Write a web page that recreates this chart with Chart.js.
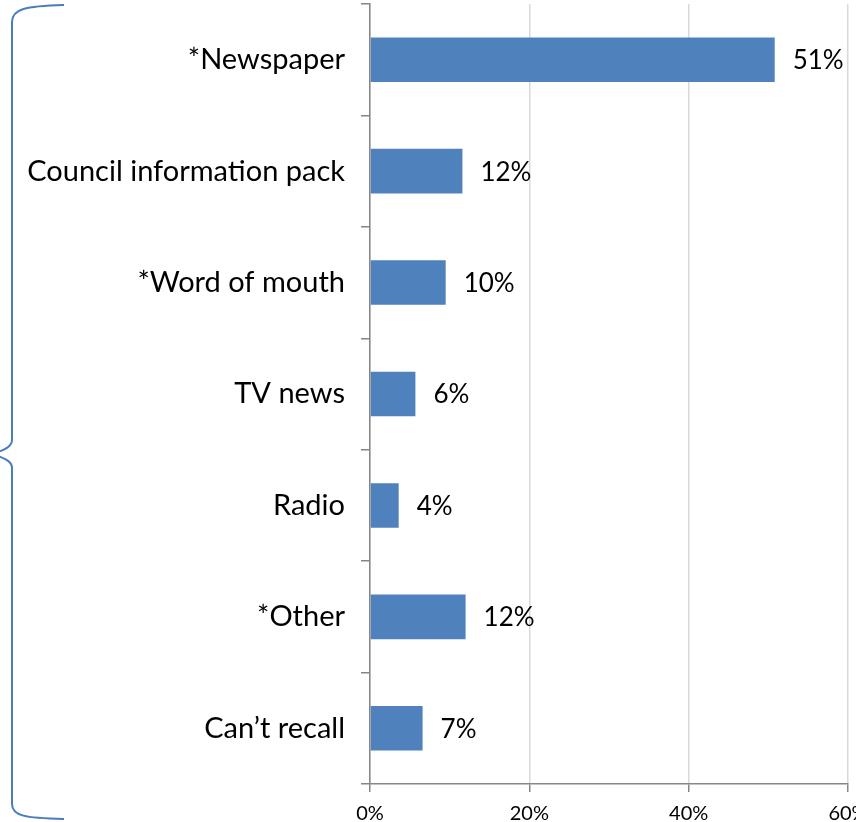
<!DOCTYPE html>
<html>
<head>
<meta charset="utf-8">
<script src="https://cdn.jsdelivr.net/npm/chart.js@4"></script>
<style>
  html, body { margin: 0; padding: 0; background: #ffffff; overflow: hidden; }
  #wrap { width: 856px; height: 822px; position: relative; }
</style>
</head>
<body>
<div id="wrap"><canvas id="c" width="856" height="822"></canvas></div>
<script>
const categories = ["*Newspaper", "Council information pack", "*Word of mouth", "TV news", "Radio", "*Other", "Can\u2019t recall"];
const values = [50.8, 11.6, 9.5, 5.7, 3.6, 12.0, 6.6];
const valueLabels = ["51%", "12%", "10%", "6%", "4%", "12%", "7%"];
const xTicks = [0, 20, 40, 60];

const FONT = "Lato, 'Open Sans', sans-serif";
const BLUE = "#4F81BD";
const AXIS = "#868686";

const dataLabelPlugin = {
  id: "dataLabels",
  afterDatasetsDraw(chart) {
    const ctx = chart.ctx;
    const meta = chart.getDatasetMeta(0);
    ctx.save();
    ctx.font = "26px " + FONT;
    ctx.fillStyle = "#000000";
    ctx.textAlign = "left";
    ctx.textBaseline = "middle";
    meta.data.forEach((bar, i) => {
      ctx.fillText(valueLabels[i], bar.x + 18, bar.y + 1);
    });
    ctx.restore();
  }
};

const bracePlugin = {
  id: "brace",
  afterDraw(chart) {
    const ctx = chart.ctx;
    const top = 4, bottom = 820, mid = 454, x = 12, endX = 64, tipX = -6;
    ctx.save();
    ctx.strokeStyle = "#4A7EBB";
    ctx.lineWidth = 2;
    ctx.beginPath();
    ctx.moveTo(endX, top + 1);
    ctx.bezierCurveTo(25, top + 2, x, top + 5, x, top + 18);
    ctx.lineTo(x, mid - 14);
    ctx.bezierCurveTo(x, mid - 5, tipX + 4, mid - 3, tipX, mid);
    ctx.bezierCurveTo(tipX + 4, mid + 3, x, mid + 5, x, mid + 14);
    ctx.lineTo(x, bottom - 16);
    ctx.bezierCurveTo(x, bottom - 4, 25, bottom - 2, endX, bottom - 1);
    ctx.stroke();
    ctx.restore();
  }
};

new Chart(document.getElementById("c"), {
  type: "bar",
  data: {
    labels: categories,
    datasets: [{
      data: values,
      backgroundColor: BLUE,
      borderWidth: 0,
      barPercentage: 0.4,
      categoryPercentage: 1.0
    }]
  },
  options: {
    indexAxis: "y",
    responsive: false,
    animation: false,
    devicePixelRatio: 1,
    layout: { padding: { top: 4, left: 0, right: 0, bottom: 0 } },
    plugins: {
      legend: { display: false },
      tooltip: { enabled: false }
    },
    scales: {
      x: {
        min: 0,
        max: 60,
        afterBuildTicks(scale) { scale.ticks = xTicks.map(v => ({ value: v })); },
        ticks: {
          color: "#000000",
          font: { family: FONT, size: 20 },
          padding: 10,
          maxRotation: 0,
          callback: v => v + "%"
        },
        grid: {
          color: "#D9D9D9",
          lineWidth: 1.5,
          tickColor: AXIS,
          tickLength: 8
        },
        border: { color: AXIS, width: 1.5 },
        afterFit(scale) {
          scale.height = 38;
          scale.paddingLeft = 0;
          scale.paddingRight = 8;
        }
      },
      y: {
        ticks: {
          color: "#000000",
          font: { family: FONT, size: 29 },
          padding: 16
        },
        grid: {
          drawOnChartArea: false,
          offset: true,
          tickColor: AXIS,
          tickLength: 9,
          lineWidth: 1.5
        },
        border: { color: AXIS, width: 1.5 },
        afterFit(scale) {
          scale.width = 370;
          scale.paddingTop = 0;
          scale.paddingBottom = 0;
        }
      }
    }
  },
  plugins: [dataLabelPlugin, bracePlugin]
});
</script>
</body>
</html>
